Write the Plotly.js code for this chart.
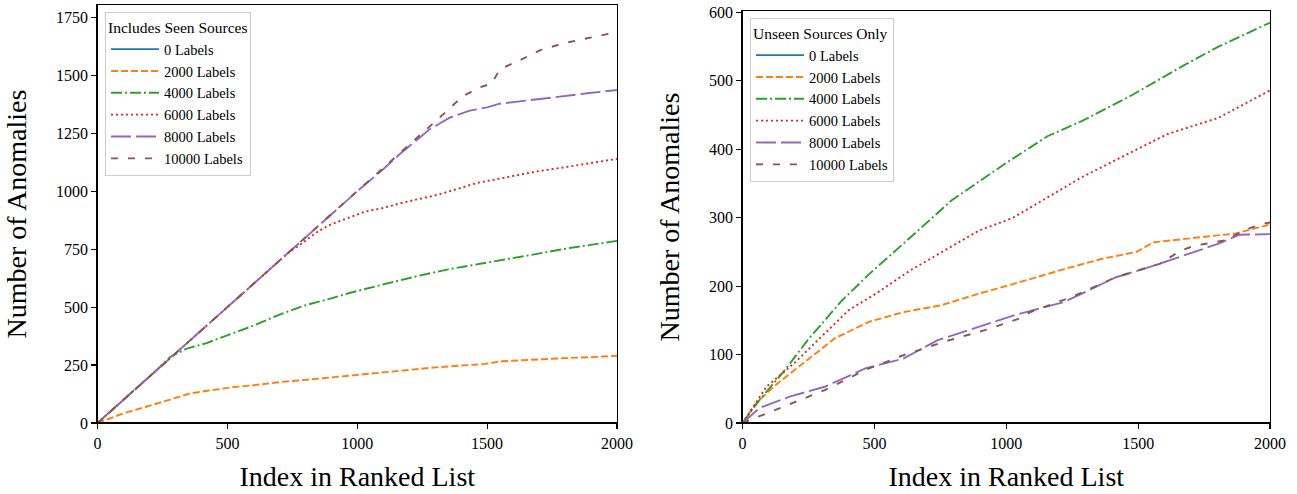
<!DOCTYPE html>
<html>
<head>
<meta charset="utf-8">
<script src="https://cdn.plot.ly/plotly-3.0.1.min.js"></script>
<style>html,body{margin:0;padding:0;background:#fff;}#chart{width:1297px;height:494px;}</style>
</head>
<body>
<div id="chart"></div>
<script>
// ---- Tick labels / categories ----
const seriesNames = ["0 Labels", "2000 Labels", "4000 Labels", "6000 Labels", "8000 Labels", "10000 Labels"];
const xTicks = [0, 500, 1000, 1500, 2000];
const yTicksLeft = [0, 250, 500, 750, 1000, 1250, 1500, 1750];
const yTicksRight = [0, 100, 200, 300, 400, 500, 600];

// ---- Left panel: Includes Seen Sources ----
const L0x = [0, 2000];
const L0y = [0, 0];
const L2000x = [0, 50, 100, 185, 250, 300, 354, 430, 510, 600, 706, 800, 900, 966, 1100, 1227, 1300, 1400, 1487, 1550, 1682, 1800, 1900, 2000];
const L2000y = [0, 22, 42, 69, 92, 108, 127, 140, 153, 163, 177, 186, 197, 206, 218, 232, 240, 248, 254, 266, 274, 280, 284, 290];
const L4000x = [0, 120, 224, 280, 341, 420, 510, 600, 706, 800, 900, 966, 1100, 1227, 1350, 1487, 1600, 1682, 1800, 1900, 2000];
const L4000y = [0, 120, 225, 285, 320, 345, 382, 420, 470, 508, 538, 560, 598, 633, 663, 689, 712, 728, 752, 770, 786];
const L6000x = [0, 250, 500, 740, 771, 850, 900, 966, 1031, 1100, 1161, 1230, 1292, 1350, 1461, 1550, 1682, 1800, 1900, 2000];
const L6000y = [0, 250, 500, 740, 762, 828, 858, 884, 913, 928, 947, 965, 980, 998, 1036, 1055, 1084, 1104, 1122, 1140];
const L8000x = [0, 500, 1000, 1100, 1163, 1230, 1279, 1356, 1433, 1500, 1548, 1663, 1779, 1894, 2000];
const L8000y = [0, 500, 1000, 1095, 1160, 1222, 1268, 1318, 1348, 1362, 1378, 1393, 1407, 1424, 1437];
const L10000x = [0, 500, 1000, 1163, 1250, 1317, 1406, 1471, 1517, 1550, 1625, 1702, 1798, 1894, 2000];
const L10000y = [0, 500, 1000, 1165, 1248, 1318, 1410, 1448, 1465, 1528, 1565, 1608, 1640, 1662, 1687];

// ---- Right panel: Unseen Sources Only ----
const R0x = [0, 2000];
const R0y = [0, 0];
const R2000x = [0, 50, 117, 180, 247, 351, 481, 610, 753, 896, 1026, 1221, 1364, 1494, 1558, 1740, 1870, 2000];
const R2000y = [0, 28, 53, 72, 92, 124, 148, 162, 172, 189, 203, 225, 240, 250, 264, 271, 277, 290];
const R4000x = [0, 65, 156, 247, 377, 487, 636, 792, 1000, 1156, 1286, 1481, 1675, 1805, 2000];
const R4000y = [0, 34, 75, 121, 179, 220, 271, 325, 380, 419, 441, 480, 523, 550, 585];
const R6000x = [0, 91, 195, 286, 403, 506, 636, 766, 896, 1026, 1156, 1286, 1481, 1610, 1805, 2000];
const R6000y = [0, 53, 87, 121, 165, 189, 223, 252, 281, 300, 329, 359, 397, 422, 446, 486];
const R8000x = [0, 65, 182, 312, 468, 610, 740, 896, 1026, 1221, 1416, 1545, 1675, 1805, 1883, 2000];
const R8000y = [0, 22, 39, 53, 80, 94, 121, 141, 157, 177, 213, 228, 245, 262, 275, 276];
const R10000x = [0, 65, 182, 312, 468, 610, 766, 922, 1052, 1091, 1247, 1416, 1584, 1662, 1714, 1831, 1909, 1974, 2000];
const R10000y = [0, 10, 27, 48, 78, 99, 119, 136, 153, 162, 184, 213, 233, 252, 259, 267, 283, 291, 293];

const colors = ["#1f77b4", "#ff7f0e", "#2ca02c", "#d62728", "#9467bd", "#8c564b"];
const dashes = ["solid", "7px,3px", "11px,3px,2px,3px", "2px,3px", "20px,5px", "7px,10px"];

const leftData = [[L0x, L0y], [L2000x, L2000y], [L4000x, L4000y], [L6000x, L6000y], [L8000x, L8000y], [L10000x, L10000y]];
const rightData = [[R0x, R0y], [R2000x, R2000y], [R4000x, R4000y], [R6000x, R6000y], [R8000x, R8000y], [R10000x, R10000y]];

const traces = [];
leftData.forEach((d, i) => traces.push({
  x: d[0], y: d[1], type: "scatter", mode: "lines", name: seriesNames[i],
  line: {color: colors[i], width: 1.9, dash: dashes[i]}, xaxis: "x", yaxis: "y", legend: "legend"
}));
rightData.forEach((d, i) => traces.push({
  x: d[0], y: d[1], type: "scatter", mode: "lines", name: seriesNames[i],
  line: {color: colors[i], width: 1.9, dash: dashes[i]}, xaxis: "x2", yaxis: "y2", legend: "legend2"
}));

const font = "Liberation Serif, Times New Roman, serif";
function xAxis(domain, anchor) {
  return {
    domain: domain, anchor: anchor, range: [0, 2000], tickvals: xTicks, ticktext: xTicks.map(String),
    showgrid: false, zeroline: false, showline: true, linecolor: "#000", linewidth: 1.3, mirror: true,
    ticks: "outside", ticklen: 5, tickwidth: 1.2, tickcolor: "#000",
    tickfont: {family: font, size: 16, color: "#000"},
    title: {text: "Index in Ranked List", font: {family: font, size: 28, color: "#000"}, standoff: 16}
  };
}
function yAxis(domain, anchor, range, ticks) {
  return {
    domain: domain, anchor: anchor, range: range, tickvals: ticks, ticktext: ticks.map(String),
    showgrid: false, zeroline: false, showline: true, linecolor: "#000", linewidth: 1.3, mirror: true,
    ticks: "outside", ticklen: 5, tickwidth: 1.2, tickcolor: "#000",
    tickfont: {family: font, size: 16, color: "#000"},
    title: {text: "Number of Anomalies", font: {family: font, size: 28, color: "#000"}, standoff: 21}
  };
}
const legendBase = {
  xanchor: "left", yanchor: "top", bgcolor: "rgba(255,255,255,0.85)", bordercolor: "#cccccc", borderwidth: 1,
  font: {family: font, size: 14.5, color: "#000"}, itemwidth: 48, tracegroupgap: 0
};

// black overlay along each bottom spine so the zero-valued series sits under it, as in the original
function spine(xref, yref) {
  return {type: "line", xref: xref + " domain", yref: yref, x0: 0, x1: 1, y0: 0, y1: 0,
    line: {color: "#000", width: 2}, layer: "above"};
}

const layout = {
  width: 1297, height: 494,
  margin: {l: 0, r: 0, t: 0, b: 0},
  paper_bgcolor: "#fff", plot_bgcolor: "#fff",
  showlegend: true,
  xaxis: xAxis([97.5 / 1297, 617 / 1297], "y"),
  yaxis: yAxis([71 / 494, 489 / 494], "x", [0, 1804], yTicksLeft),
  xaxis2: xAxis([742.5 / 1297, 1270 / 1297], "y2"),
  yaxis2: yAxis([71 / 494, 483 / 494], "x2", [0, 602], yTicksRight),
  shapes: [spine("x", "y"), spine("x2", "y2")],
  legend: Object.assign({}, legendBase, {x: 105 / 1297, y: 1 - 12 / 494,
    title: {text: "Includes Seen Sources", font: {family: font, size: 15.5, color: "#000"}}}),
  legend2: Object.assign({}, legendBase, {x: 750 / 1297, y: 1 - 18 / 494,
    title: {text: "Unseen Sources Only", font: {family: font, size: 15.5, color: "#000"}}})
};

Plotly.newPlot("chart", traces, layout, {displayModeBar: false, staticPlot: true});
</script>
</body>
</html>
